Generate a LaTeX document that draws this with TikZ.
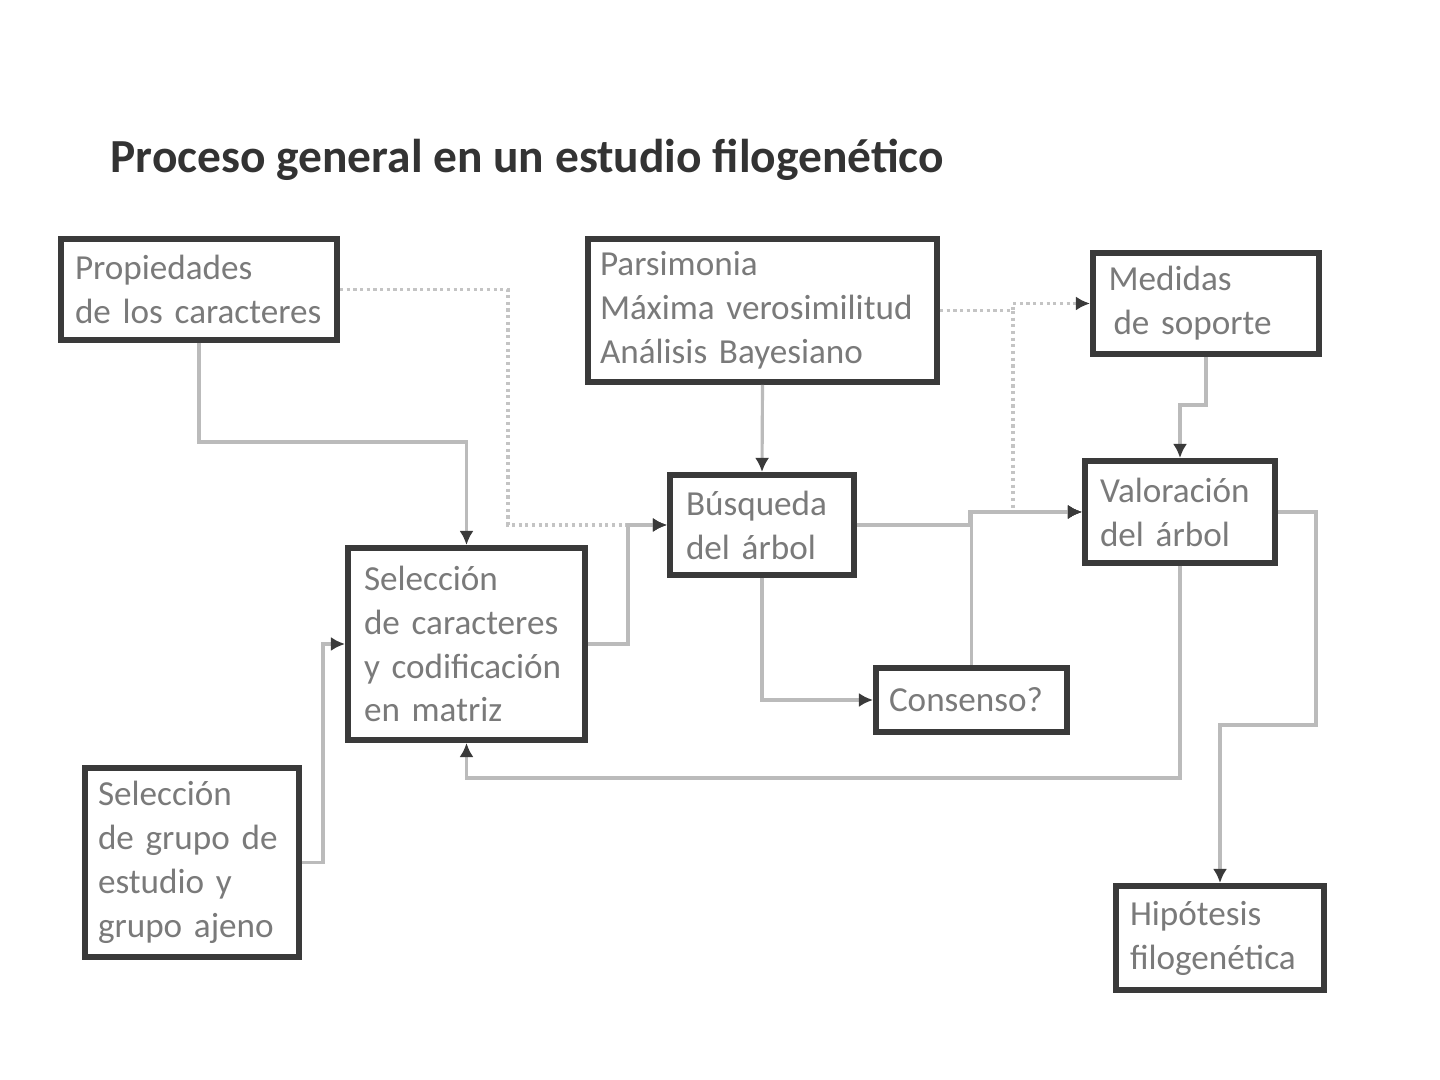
\documentclass[tikz,border=0pt]{standalone}
\usepackage{fontspec}
\setmainfont{Carlito}
\usetikzlibrary{calc}
\usetikzlibrary{arrows.meta}
\definecolor{BoxGray}{HTML}{3A3A3A}
\definecolor{TextGray}{HTML}{7A7A7A}
\definecolor{LineGray}{HTML}{BBBBBB}
\definecolor{DotGray}{HTML}{C4C4C4}

\begin{document}
\begin{tikzpicture}
    \tikzstyle{b}=[draw=BoxGray, line width=1.7pt, fill=white, text=TextGray, align=left, inner sep=0pt, font=\fontsize{10}{12.5}\selectfont]
    \tikzstyle{l}=[draw=LineGray, line width=0.9pt, -{Latex[length=4pt,width=4pt,color=BoxGray]}]
    \tikzstyle{d}=[draw=DotGray, line width=0.9pt, densely dotted, -{Latex[length=4pt,width=4pt,color=BoxGray]}]

    \useasboundingbox (0,0) rectangle (14.4,10.8);

    % title
    \node[anchor=base west, inner sep=0pt, text=black!80, font=\fontsize{13.5}{16}\selectfont\bfseries] (title) at (1.10,9.07) {Proceso general en un estudio filogenético};

    % boxes
    \node[b, minimum width=2.76cm, minimum height=1.01cm, text width=2.48cm] (prop) at (1.99,7.905) {Propiedades\\de los caracteres};
    \node[b, minimum width=3.49cm, minimum height=1.43cm, text width=3.25cm] (pars) at (7.625,7.695) {Parsimonia\\Máxima verosimilitud\\Análisis Bayesiano};
    \node[b, minimum width=2.26cm, minimum height=1.01cm, text width=1.95cm] (med) at (12.06,7.765) {Medidas\\\hspace{0.5mm}de soporte};
    \node[b, minimum width=1.84cm, minimum height=1.00cm, text width=1.52cm] (busq) at (7.62,5.55) {Búsqueda\\del árbol};
    \node[b, minimum width=1.90cm, minimum height=1.02cm, text width=1.60cm] (val) at (11.80,5.68) {Valoración\\del árbol};
    \node[b, minimum width=2.37cm, minimum height=1.92cm, text width=2.05cm] (selc) at (4.665,4.36) {Selección\\de caracteres\\y codificación\\en matriz};
    \node[b, minimum width=1.91cm, minimum height=0.64cm, text width=1.65cm] (cons) at (9.715,3.80) {Consenso?};
    \node[b, minimum width=2.14cm, minimum height=1.89cm, text width=1.88cm] (selg) at (1.92,2.175) {Selección\\de grupo de\\estudio y\\grupo ajeno};
    \node[b, minimum width=2.08cm, minimum height=1.04cm, text width=1.80cm] (hip) at (12.20,1.42) {Hipótesis\\filogenética};

    % junctions
    \coordinate (j_prop) at (5.08,0);
    \coordinate (j_pars) at (10.13,0);
    \coordinate (j_hip) at (13.16,3.55);

    % characters
    \draw[l] (prop.south) -- ++(0,-0.99) -| (selc.north);
    \draw[d] (prop.east) -| (j_prop |- busq.west) -- (busq.west);
    \draw[l] (selg.east) -- ++(0.21,0) |- (selc.west);
    \draw[l] (selc.east) -- ++(0.40,0) |- (busq.west);

    % methods
    \draw[l] (pars.south) -- (busq.north);
    \draw[d] (pars.east) -| (j_pars |- med.west) -- (med.west);
    \draw[d] (pars.east) -| (j_pars |- val.west) -- (val.west);

    % tree search
    \draw[l] (busq.east) -- ++(1.13,0) |- (val.west);
    \draw[l] (busq.south) |- (cons.west);
    \draw[l] (cons.north) |- (val.west);

    % assessment
    \draw[l] (med.south) -- ++(0,-0.48) -| (val.north);
    \draw[l] (val.south) -- ++(0,-2.12) -| (selc.south);
    \draw[l] (val.east) -| (j_hip) -| (hip.north);

\end{tikzpicture}
\end{document}
